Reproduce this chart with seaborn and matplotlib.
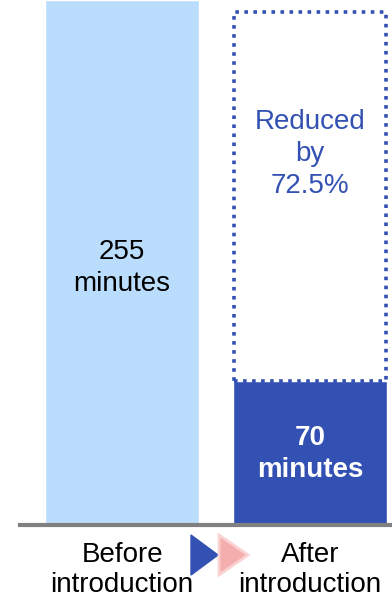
import matplotlib
matplotlib.use('Agg')
import matplotlib.pyplot as plt
import seaborn as sns
import pandas as pd
from matplotlib.patches import Rectangle, Polygon

# data
stages = ['Before\nintroduction', 'After\nintroduction']
minutes = [255, 70]
bar_labels = ['255\nminutes', '70\nminutes']
reduction = 'Reduced\nby\n72.5%'

light = '#BBDDFD'
dark = '#3351B3'

sns.set_style('white')
plt.rcParams['font.family'] = ['Liberation Sans', 'DejaVu Sans']

df = pd.DataFrame({'stage': stages, 'minutes': minutes})

fig = plt.figure(figsize=(3.92, 6.0), dpi=100)
ax = fig.add_axes([20 / 392, 75 / 600, 372 / 392, 525 / 600])

sns.barplot(data=df, x='stage', y='minutes', hue='stage', palette=[light, dark],
            width=0.815, legend=False, ax=ax, saturation=1)

ax.set_ylim(0, 255)
ax.set_xlim(-0.543, 1.436)

# dotted outline showing the reduction
ax.add_patch(Rectangle((1 - 0.405, minutes[1]), 0.81, 249 - minutes[1], fill=False,
                       edgecolor=dark, linestyle=(0, (1, 1.5)), linewidth=2.6, zorder=3))

ax.text(0, 125, bar_labels[0], ha='center', va='center', fontsize=20,
        color='black', linespacing=1.3)
ax.text(1, 34.5, bar_labels[1], ha='center', va='center', fontsize=20,
        color='white', fontweight='bold', linespacing=1.3)
ax.text(1, 180, reduction, ha='center', va='center', fontsize=20,
        color=dark, linespacing=1.3)

for s in ['top', 'right', 'left']:
    ax.spines[s].set_visible(False)
ax.spines['bottom'].set_color('#808080')
ax.spines['bottom'].set_linewidth(3)
ax.set_yticks([])
ax.set_xlabel('')
ax.set_ylabel('')
ax.tick_params(axis='x', length=0, pad=12, labelsize=20, labelcolor='black')
for lbl in ax.get_xticklabels():
    lbl.set_linespacing(1.2)

# arrow shapes between labels
fig.patches.append(Polygon([(191 / 392, 1 - 535 / 600), (191 / 392, 1 - 575 / 600),
                            (218 / 392, 1 - 555 / 600)], closed=True,
                           transform=fig.transFigure, facecolor=dark, edgecolor=dark))
fig.patches.append(Polygon([(219 / 392, 1 - 535 / 600), (219 / 392, 1 - 575 / 600),
                            (248 / 392, 1 - 555 / 600)], closed=True,
                           transform=fig.transFigure, facecolor='#F4AEAE',
                           edgecolor='#FAD2D2', linewidth=2))

fig.savefig('out.png', dpi=100)
